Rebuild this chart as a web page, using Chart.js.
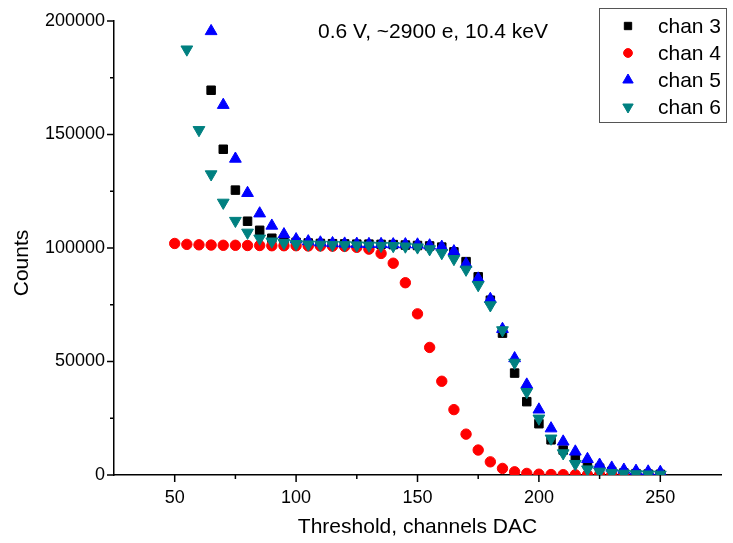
<!DOCTYPE html>
<html>
<head>
<meta charset="utf-8">
<script src="https://cdn.jsdelivr.net/npm/chart.js@4.4.1/dist/chart.umd.min.js"></script>
<style>
  html, body { margin: 0; padding: 0; background: #fff; }
</style>
</head>
<body>
<canvas id="threshold-chart" width="733" height="543"></canvas>
<script>
// Threshold scan, counts per DAC setting
var chan3X = [65, 70, 75, 80, 85, 90, 95, 100, 105, 110, 115, 120, 125, 130, 135, 140, 145, 150, 155, 160,
  165, 170, 175, 180, 185, 190, 195, 200, 205, 210, 215, 220, 225, 230, 235, 240, 245, 250];
var chan3Counts = [169500, 143500, 125500, 111800, 107800, 104300, 103000, 102500, 102200, 102000, 101900,
  101800, 101700, 101700, 101600, 101500, 101300, 101100, 100900, 100400, 98300, 94000, 87300, 77000, 62500,
  44900, 32300, 22600, 15500, 11000, 7200, 4800, 3000, 1600, 900, 600, 400, 300];

var chan4X = [50, 55, 60, 65, 70, 75, 80, 85, 90, 95, 100, 105, 110, 115, 120, 125, 130, 135, 140, 145,
  150, 155, 160, 165, 170, 175, 180, 185, 190, 195, 200, 205, 210, 215, 220, 225, 230, 235, 240, 245, 250];
var chan4Counts = [102000, 101600, 101400, 101300, 101200, 101200, 101100, 101100, 101000, 101000, 101000,
  100900, 100900, 100800, 100700, 100300, 99500, 97600, 93300, 84700, 71000, 56200, 41300, 28800, 18000,
  11000, 5800, 2900, 1400, 700, 350, 200, 150, 100, 80, 60, 50, 40, 30, 30, 20];

var chan5X = [65, 70, 75, 80, 85, 90, 95, 100, 105, 110, 115, 120, 125, 130, 135, 140, 145, 150, 155, 160,
  165, 170, 175, 180, 185, 190, 195, 200, 205, 210, 215, 220, 225, 230, 235, 240, 245, 250];
var chan5Counts = [195500, 163000, 139300, 124200, 115200, 109800, 106000, 103800, 102900, 102400, 102100,
  101900, 101800, 101700, 101700, 101600, 101600, 101500, 101100, 100500, 98500, 93000, 86500, 77500, 64300,
  51400, 39800, 28800, 20500, 14700, 10300, 7000, 4500, 3200, 2300, 1800, 1500, 1300];

var chan6X = [55, 60, 65, 70, 75, 80, 85, 90, 95, 100, 105, 110, 115, 120, 125, 130, 135, 140, 145, 150,
  155, 160, 165, 170, 175, 180, 185, 190, 195, 200, 205, 210, 215, 220, 225, 230, 235, 240, 245, 250];
var chan6Counts = [187500, 152000, 132500, 120000, 112000, 106800, 104200, 102900, 102200, 101800, 101600,
  101500, 101400, 101300, 101200, 101100, 101000, 100900, 100700, 100300, 99500, 97800, 95200, 90500, 83700,
  74800, 63800, 49500, 36600, 24900, 16100, 9600, 4900, 2500, 1500, 900, 600, 400, 300, 200];

var seriesNames = ['chan 3', 'chan 4', 'chan 5', 'chan 6'];
var xTickLabels = [50, 100, 150, 200, 250];
var yTickLabels = [0, 50000, 100000, 150000, 200000];
var noteText = '0.6 V, ~2900 e, 10.4 keV';

var FONT = '"Liberation Sans", Arial, sans-serif';

function toPoints(xs, ys) {
  return xs.map(function (x, i) { return { x: x, y: ys[i] }; });
}

var markers = [
  { color: '#000000', style: 'rect', rotation: 0, radius: 6 },
  { color: '#ff0000', style: 'circle', rotation: 0, radius: 5.2 },
  { color: '#0000ff', style: 'triangle', rotation: 0, radius: 6.8 },
  { color: '#008080', style: 'triangle', rotation: 180, radius: 6.8 }
];

var allX = [chan3X, chan4X, chan5X, chan6X];
var allY = [chan3Counts, chan4Counts, chan5Counts, chan6Counts];

var datasets = seriesNames.map(function (name, i) {
  var m = markers[i];
  return {
    label: name,
    data: toPoints(allX[i], allY[i]),
    showLine: false,
    pointStyle: m.style,
    pointRotation: m.rotation,
    pointRadius: m.radius,
    pointBorderWidth: 1,
    pointBackgroundColor: m.color,
    pointBorderColor: m.color,
    order: 3 - i  // chan 6 ends up on top
  };
});

// ticks, titles, note and legend box
var decorations = {
  id: 'decorations',
  afterDraw: function (chart) {
    var ctx = chart.ctx;
    var xs = chart.scales.x, ys = chart.scales.y;
    var area = chart.chartArea;
    ctx.save();
    ctx.strokeStyle = '#000';
    ctx.lineWidth = 1.5;
    ctx.beginPath();
    xs.ticks.forEach(function (t) {
      if (t.value <= xs.min || t.value >= xs.max) return;
      var px = xs.getPixelForValue(t.value);
      var len = xTickLabels.indexOf(t.value) >= 0 ? 7 : 4;
      ctx.moveTo(px, area.bottom);
      ctx.lineTo(px, area.bottom + len);
    });
    ys.ticks.forEach(function (t) {
      var py = ys.getPixelForValue(t.value);
      var len = yTickLabels.indexOf(t.value) >= 0 ? 7 : 4;
      ctx.moveTo(area.left, py);
      ctx.lineTo(area.left - len, py);
    });
    ctx.stroke();

    // axis titles
    ctx.fillStyle = '#000';
    ctx.font = '21px ' + FONT;
    ctx.textAlign = 'center';
    ctx.textBaseline = 'middle';
    ctx.fillText('Threshold, channels DAC', (area.left + area.right) / 2, 527);
    ctx.save();
    ctx.translate(22, 263);
    ctx.rotate(-Math.PI / 2);
    ctx.fillText('Counts', 0, 0);
    ctx.restore();

    // note
    ctx.fillText(noteText, 433, 32);

    // legend
    ctx.lineWidth = 1;
    ctx.strokeStyle = '#555';
    ctx.strokeRect(599.5, 8.5, 127, 114);
    ctx.textAlign = 'left';
    var rowY = [26, 53, 80, 107];
    seriesNames.forEach(function (name, i) {
      var m = markers[i];
      ctx.fillStyle = m.color;
      ctx.strokeStyle = m.color;
      Chart.helpers.drawPoint(ctx, {
        pointStyle: m.style, rotation: m.rotation, radius: m.radius - 0.8, borderWidth: 1
      }, 628, rowY[i]);
      ctx.fillStyle = '#000';
      ctx.fillText(name, 658, rowY[i] + 1);
    });
    ctx.restore();
  }
};

var chart = new Chart(document.getElementById('threshold-chart'), {
  type: 'scatter',
  data: { datasets: datasets },
  plugins: [decorations],
  options: {
    responsive: false,
    animation: false,
    events: [],
    layout: { padding: { top: 21, right: 7, left: 0, bottom: 0 } },
    plugins: {
      legend: { display: false },
      tooltip: { enabled: false }
    },
    scales: {
      x: {
        type: 'linear',
        min: 25,
        max: 275,
        afterFit: function (scale) { scale.height = 68; },
        border: { display: true, color: '#000', width: 1.5 },
        grid: { display: true, drawOnChartArea: false, drawTicks: false },
        ticks: {
          stepSize: 25,
          padding: 12,
          maxRotation: 0,
          autoSkip: false,
          color: '#000',
          font: { family: FONT, size: 18 },
          callback: function (v) { return xTickLabels.indexOf(v) >= 0 ? String(v) : ''; }
        }
      },
      y: {
        type: 'linear',
        min: 0,
        max: 200000,
        afterFit: function (scale) { scale.width = 114; },
        border: { display: true, color: '#000', width: 1.5 },
        grid: { display: true, drawOnChartArea: false, drawTicks: false },
        ticks: {
          stepSize: 25000,
          padding: 9,
          autoSkip: false,
          color: '#000',
          font: { family: FONT, size: 18 },
          callback: function (v) { return yTickLabels.indexOf(v) >= 0 ? String(v) : ''; }
        }
      }
    }
  }
});
</script>
</body>
</html>
